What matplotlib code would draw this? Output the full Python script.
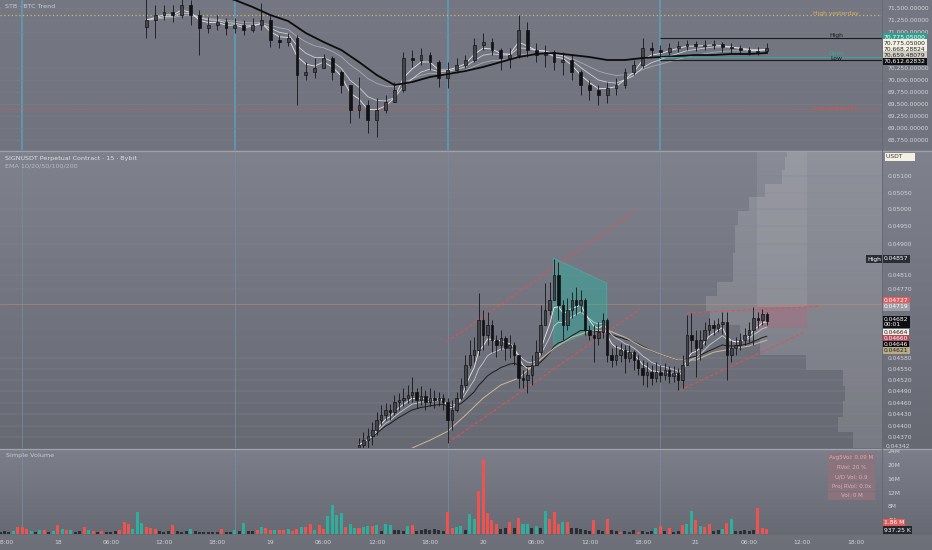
import numpy as np
import pandas as pd
import matplotlib
matplotlib.use('Agg')
import matplotlib.pyplot as plt
from matplotlib.ticker import FixedLocator, FixedFormatter
from matplotlib.patches import Polygon, Rectangle
from matplotlib.colors import LinearSegmentedColormap

# ---------------- data ----------------
# time axis: hours from 18th 00:00
x_ticks = [-6, 0, 6, 12, 18, 24, 30, 36, 42, 48, 54, 60, 66, 72, 78, 84, 90]
x_labels = ["18:00", "18", "06:00", "12:00", "18:00", "19", "06:00", "12:00", "18:00",
            "20", "06:00", "12:00", "18:00", "21", "06:00", "12:00", "18:00"]
day_lines = [-4, 20, 44, 68]

# BTC hourly candles (top panel), starting 18th 10:00
top_first_open = 71100
top_close = [71250,71354,71417,71354,71563,71354,71083,71146,71208,71083,
             71146,71042,71146,71250,70833,70792,70875,70104,70167,70250,
             70458,70167,69896,69375,69479,69167,69375,69542,69792,70458,
             70417,70521,70375,70042,70208,70313,70417,70729,70792,70625,
             70458,70521,71042,70625,70521,70583,70375,70417,70167,69896,
             69792,69688,69833,69896,70167,70313,70667,70625,70583,70667,
             70708,70750,70708,70729,70750,70688,70667,70625,70583,70604,
             70668]
top_high = [71979,71563,71563,71563,71771,71667,71458,71313,71354,71292,
            71292,71250,71292,71604,71354,70938,70979,70938,70375,70458,
            70542,70500,70208,69896,70063,69583,69625,69688,69958,70583,
            70625,70667,70583,70417,70375,70458,70521,70875,70979,70875,
            70667,70667,71354,71208,70771,70729,70625,70583,70521,70208,
            70000,69896,69958,70042,70250,70417,70875,70792,70729,70771,
            70813,70833,70813,70833,70833,70792,70771,70729,70688,70688,
            70775]
top_low = [70875,70875,71250,71208,71292,71146,70521,70979,71042,70938,
           70979,70938,71000,71042,70688,70667,70708,69479,70000,70042,
           70313,70000,69729,69104,69208,68896,68813,69313,69583,69750,
           70271,70313,70208,69854,69833,70146,70250,70375,70625,70521,
           70208,70250,70458,70479,70375,70271,70208,70104,70000,69688,
           69583,69479,69521,69688,69833,70104,70250,70500,70458,70521,
           70583,70625,70604,70625,70646,70583,70563,70542,70521,70521,
           70563]
# slow EMA (thick black) read every 2 hours from 18th 10:00
top_ema_slow = [72188,72083,71979,71875,71771,71667,71521,71354,71229,70979,
                70792,70625,70375,70104,69896,69958,70063,70125,70188,70271,
                70375,70479,70542,70563,70521,70479,70417,70417,70458,70479,
                70500,70521,70521,70542,70542,70563]
top_yticks = [68750, 69000, 69250, 69500, 69750, 70000, 70250, 71000, 71250, 71500]
high_yesterday = 71360
low_yesterday = 69396
range_high, range_mid, range_low = 70875, 70479, 70417

# SIGNUSDT 30-min candles (middle panel), starting 19th 10:00
mid_first_open = 0.04340
mid_close = [0.04350,0.04362,0.04372,0.04388,0.04414,0.04427,0.04441,0.04435,0.04462,0.04467,
             0.04472,0.04480,0.04488,0.04467,0.04477,0.04462,0.04472,0.04467,0.04472,0.04462,
             0.04414,0.04441,0.04472,0.04507,0.04560,0.04587,0.04601,0.04683,0.04642,0.04670,
             0.04628,0.04615,0.04634,0.04606,0.04615,0.04587,0.04525,0.04520,0.04533,0.04560,
             0.04595,0.04670,0.04711,0.04739,0.04810,0.04725,0.04670,0.04711,0.04739,0.04725,
             0.04739,0.04656,0.04642,0.04634,0.04650,0.04683,0.04587,0.04574,0.04587,0.04601,
             0.04579,0.04595,0.04574,0.04552,0.04533,0.04541,0.04525,0.04541,0.04533,0.04547,
             0.04531,0.04538,0.04520,0.04560,0.04642,0.04628,0.04606,0.04628,0.04656,0.04670,
             0.04662,0.04672,0.04678,0.04587,0.04606,0.04615,0.04628,0.04642,0.04656,0.04689,
             0.04683,0.04700,0.04682]
mid_high = [0.04367,0.04383,0.04393,0.04409,0.04435,0.04454,0.04459,0.04456,0.04480,0.04485,
            0.04499,0.04507,0.04528,0.04499,0.04504,0.04493,0.04499,0.04493,0.04488,0.04483,
            0.04472,0.04467,0.04488,0.04525,0.04587,0.04628,0.04636,0.04758,0.04711,0.04705,
            0.04683,0.04642,0.04656,0.04639,0.04642,0.04623,0.04587,0.04547,0.04552,0.04587,
            0.04628,0.04725,0.04787,0.04790,0.04857,0.04847,0.04739,0.04745,0.04761,0.04776,
            0.04767,0.04745,0.04670,0.04670,0.04678,0.04703,0.04689,0.04606,0.04615,0.04620,
            0.04615,0.04615,0.04601,0.04587,0.04574,0.04568,0.04560,0.04568,0.04560,0.04566,
            0.04558,0.04558,0.04552,0.04587,0.04697,0.04703,0.04656,0.04656,0.04678,0.04689,
            0.04683,0.04689,0.04705,0.04705,0.04628,0.04636,0.04648,0.04662,0.04678,0.04719,
            0.04705,0.04714,0.04705]
mid_low = [0.04325,0.04332,0.04342,0.04350,0.04375,0.04401,0.04414,0.04414,0.04427,0.04441,
           0.04451,0.04459,0.04462,0.04446,0.04454,0.04441,0.04451,0.04446,0.04451,0.04441,
           0.04355,0.04388,0.04435,0.04467,0.04493,0.04552,0.04568,0.04587,0.04601,0.04615,
           0.04595,0.04582,0.04601,0.04574,0.04579,0.04560,0.04499,0.04499,0.04485,0.04507,
           0.04560,0.04587,0.04683,0.04697,0.04739,0.04683,0.04628,0.04656,0.04689,0.04697,
           0.04705,0.04642,0.04628,0.04568,0.04615,0.04634,0.04568,0.04555,0.04560,0.04568,
           0.04538,0.04568,0.04547,0.04533,0.04507,0.04501,0.04507,0.04515,0.04515,0.04520,
           0.04512,0.04515,0.04493,0.04499,0.04574,0.04595,0.04528,0.04574,0.04615,0.04642,
           0.04642,0.04650,0.04645,0.04520,0.04568,0.04587,0.04601,0.04615,0.04623,0.04615,
           0.04662,0.04670,0.04670]
# slow EMA (tan) read every 2 hours from 19th 16:00
mid_ema_slow = [0.04342,0.04362,0.04385,0.04427,0.04472,0.04507,0.04525,0.04566,0.04606,0.04636,
                0.04653,0.04656,0.04636,0.04609,0.04590,0.04574,0.04574,0.04595,0.04604,0.04612,
                0.04628]
mid_yticks = [0.04370,0.04400,0.04430,0.04460,0.04490,0.04520,0.04550,0.04580,
              0.04770,0.04810,0.04900,0.04950,0.05000,0.05050,0.05100]
hline_price = 0.04727
# volume profile rows (bottom row first), volume in M
profile_base, profile_step = 0.04342, 0.000408
profile_vol = [2.9,4.4,3.9,3.7,3.9,7.6,12.2,14.2,17.2,17.6,
               16.5,14.9,14.9,14.7,14.7,14.4,13.3,11.7,10.0,9.7,9.5]
# drawings: (t0, p0, t1, p1)
channel_lines = [(43.9, 0.04623, 65.2, 0.04995),
                 (44.0, 0.04355, 65.7, 0.04714),
                 (70.2, 0.04493, 84.1, 0.04648),
                 (71.0, 0.04703, 86.0, 0.04722)]
teal_poly = [(55.97, 0.04858), (61.95, 0.04787), (61.95, 0.04670), (55.97, 0.04610)]
pos_t0, pos_t1 = 78.9, 84.5
pos_entry, pos_stop = 0.04719, 0.04662

# volume (30-min), starting 17th 17:30
vol = [0.7,0.8,0.6,0.9,2.0,2.1,1.4,1.0,0.6,1.3,
       1.2,0.7,0.9,2.7,1.4,1.1,1.3,0.7,0.8,2.0,
       1.1,0.8,0.7,1.0,0.6,0.7,0.8,1.3,3.5,3.0,
       1.4,6.5,3.3,2.0,1.6,1.4,0.8,0.7,0.8,2.7,
       0.9,0.6,0.8,1.4,0.8,0.7,0.6,0.7,0.6,0.5,
       1.4,0.6,0.7,1.1,0.9,3.3,0.8,0.9,1.1,2.0,
       1.8,1.1,1.1,1.1,1.1,1.4,1.0,1.4,2.0,2.0,
       2.9,1.1,2.5,1.4,5.3,8.4,5.5,6.0,2.1,3.0,
       1.8,1.8,2.0,2.3,2.3,2.5,1.0,2.8,2.5,1.3,
       1.1,1.0,2.4,2.5,1.0,1.3,1.4,1.2,1.5,1.3,
       1.0,6.5,1.8,2.0,2.4,1.2,5.7,4.5,12.4,21.7,
       6.2,4.0,3.0,1.5,1.8,3.5,1.6,4.7,3.0,3.0,
       1.8,2.4,1.6,6.7,4.5,6.5,3.0,3.5,3.5,1.8,
       1.6,1.5,1.2,1.0,4.0,1.1,1.0,4.5,1.3,0.9,
       0.6,0.8,0.7,1.2,0.5,0.9,0.7,1.0,1.7,2.4,
       0.9,1.7,0.7,0.8,2.7,3.0,6.7,4.0,2.4,2.1,
       3.0,1.0,1.1,1.4,3.3,4.5,1.0,0.9,1.1,1.0,
       1.2,7.6,1.7,1.4]
vol_kind = ("kkkgrrrgkg" "rkgrgrgkkr" "grkrkkkrrr" "gggrrrkkkr" "kkkgkkkkkk"
            "rkkgkgkkrg" "rrgrrgrrgr" "rgrrggggrg" "grggrgkggk" "kkgrkkkkkk"
            "krrggkggrr" "rrrkkrkrgg" "kgkgrrrgrk" "kkkkrkkrkk" "rkkkrkkkgr"
            "krkkrggrgr" "rkkgrgkkkk" "krrr")
vol_yticks = [4, 8, 12, 16, 20, 24]
vol_stats = ["Avg5Vol: 0.09 M", "RVol: 20 %", "U/D Vol: 0.9", "Proj RVol: 0.0x", "Vol: 0 M"]

# ---------------- figure ----------------
W, H = 932, 550
fig = plt.figure(figsize=(W / 100, H / 100), dpi=100)
fig.patch.set_facecolor('#777a85')
LBL = '#d2d4da'
FS = 4.3


def rect(x0, y0, x1, y1):
    return [x0 / W, 1 - y1 / H, (x1 - x0) / W, (y1 - y0) / H]


def bg(r, top, bottom):
    a = fig.add_axes(r, zorder=0)
    cmap = LinearSegmentedColormap.from_list('g', [bottom, top])
    a.imshow(np.linspace(0, 1, 256).reshape(-1, 1), aspect='auto', cmap=cmap,
             origin='lower', extent=[0, 1, 0, 1])
    a.set_axis_off()
    return a


bg(rect(0, 0, W, 150), '#757883', '#71747e')
bg(rect(0, 151, W, 449), '#7f828d', '#666872')
bg(rect(0, 450, W, 535), '#7c7f8a', '#676973')
bg(rect(0, 535, W, H), '#6f717b', '#6c6e78')


def style(ax):
    ax.set_facecolor('none')
    for s in ax.spines.values():
        s.set_visible(False)
    ax.yaxis.tick_right()
    ax.tick_params(axis='y', length=0, pad=4, labelsize=FS, labelcolor=LBL)
    ax.tick_params(axis='x', length=0, labelbottom=False)
    ax.set_xlim(-6.5, 93.0)


def candles(ax, t, o, h, l, c, width, tiny):
    t = np.asarray(t, float); o = np.asarray(o, float); c = np.asarray(c, float)
    hi = np.maximum(np.asarray(h, float), np.maximum(o, c))
    lo = np.minimum(np.asarray(l, float), np.minimum(o, c))
    ax.vlines(t, lo, hi, color='#141519', lw=0.6, zorder=3)
    up = c >= o
    bot = np.minimum(o, c)
    ht = np.maximum(np.abs(c - o), tiny)
    ax.bar(t[up], ht[up], width, bottom=bot[up], color='#44464d', edgecolor='#141519', lw=0.5, zorder=4)
    ax.bar(t[~up], ht[~up], width, bottom=bot[~up], color='#111216', edgecolor='#111216', lw=0.5, zorder=4)


# ---------- top panel ----------
ax1 = fig.add_axes(rect(0, 0, 882, 150), zorder=1)
style(ax1)
ax1.set_ylim(68542, 71667)
ax1.yaxis.set_major_locator(FixedLocator(top_yticks))
ax1.yaxis.set_major_formatter(FixedFormatter([f"{v:,.5f}" for v in top_yticks]))
ax1.grid(axis='y', color='#7b7e89', lw=0.4)
for d in day_lines:
    ax1.axvline(d, color='#5d9ab6', lw=1.3, zorder=1)
ax1.axhline(high_yesterday, color='#d6b55e', lw=0.9, ls=(0, (1, 2)), zorder=2)
ax1.axhline(low_yesterday, color='#e0504f', lw=0.9, ls=(0, (1, 2)), zorder=2)
n1 = min(len(top_close), len(top_high), len(top_low))
t1 = 10 + np.arange(n1)
o1 = np.r_[top_first_open, top_close[:n1 - 1]]
tc = pd.Series(top_close[:n1], dtype=float)
ax1.plot(t1, tc.ewm(span=12, adjust=False).mean(), color='#a9abb3', lw=0.6, zorder=2)
ax1.plot(t1, tc.ewm(span=6, adjust=False).mean(), color='#d0d1d6', lw=0.6, zorder=2)
ax1.plot(t1, tc.ewm(span=3, adjust=False).mean(), color='#e6e6ea', lw=0.6, zorder=2)
candles(ax1, t1, o1, top_high[:n1], top_low[:n1], top_close[:n1], 0.32, 6)
ax1.plot(10 + 2 * np.arange(len(top_ema_slow)), top_ema_slow, color='#0c0c0e', lw=1.3, zorder=5)
t_rng0 = 67.9
ax1.hlines([range_high, range_low], t_rng0, 93.0, color='#1a1b1f', lw=0.8, zorder=5)
ax1.hlines([range_mid], t_rng0, 93.0, color='#3aa89a', lw=0.8, zorder=5)

# ---------- middle panel ----------
ax2 = fig.add_axes(rect(0, 151, 882, 448), zorder=1)
style(ax2)
ax2.set_yscale('log')
ax2.set_ylim(0.04342, 0.05176)
ax2.yaxis.set_major_locator(FixedLocator(mid_yticks))
ax2.yaxis.set_major_formatter(FixedFormatter([f"{v:.5f}" for v in mid_yticks]))
ax2.yaxis.set_minor_locator(FixedLocator([]))
ax2.grid(axis='y', color='#838691', lw=0.35)

axp = fig.add_axes(rect(0, 151, 882, 448), zorder=0.5, sharey=ax2)
axp.set_axis_off()
axp.set_xlim(88.2, 0)
rows = profile_base + profile_step * np.arange(len(profile_vol))
axp.barh(rows, profile_vol, height=profile_step, align='edge', color='white', alpha=0.13, lw=0)

for d in day_lines:
    ax2.axvline(d, color='#6e8ea8', lw=0.7, alpha=0.8, zorder=1)
ax2.axhline(hline_price, color='#c8915c', lw=0.5, alpha=0.7, zorder=2)
ax2.add_patch(Rectangle((pos_t0, pos_entry), pos_t1 - pos_t0, 0.06 - pos_entry,
                        fc='white', alpha=0.08, lw=0, zorder=1))
ax2.add_patch(Rectangle((pos_t0, pos_stop), pos_t1 - pos_t0, pos_entry - pos_stop,
                        fc='#c45c78', alpha=0.28, lw=0, zorder=1))
ax2.add_patch(Polygon(teal_poly, closed=True, fc='#2bb3a2', alpha=0.45,
                      ec='#45c9b9', lw=0.6, zorder=2))
for (a0, p0, a1, p1) in channel_lines:
    ax2.plot([a0, a1], [p0, p1], color='#e0505a', lw=0.8, ls=(0, (3, 2)), zorder=3)

n2 = min(len(mid_close), len(mid_high), len(mid_low))
t2 = 34 + 0.5 * np.arange(n2)
o2 = np.r_[mid_first_open, mid_close[:n2 - 1]]
mc = pd.Series(mid_close[:n2], dtype=float)
ax2.plot(t2, mc.ewm(span=24, adjust=True).mean(), color='#1b1c20', lw=0.7, zorder=3)
ax2.plot(t2, mc.ewm(span=10, adjust=True).mean(), color='#c9cad0', lw=0.6, zorder=3)
ax2.plot(t2, mc.ewm(span=5, adjust=True).mean(), color='#ebebee', lw=0.6, zorder=3)
ax2.plot(40 + 2 * np.arange(len(mid_ema_slow)), mid_ema_slow, color='#cdbb96', lw=0.7, zorder=3)
candles(ax2, t2, o2, mid_high[:n2], mid_low[:n2], mid_close[:n2], 0.28, 0.000012)

# ---------- volume panel ----------
ax3 = fig.add_axes(rect(0, 450, 882, 534), zorder=1)
style(ax3)
ax3.set_ylim(0, 24.4)
ax3.yaxis.set_major_locator(FixedLocator(vol_yticks))
ax3.yaxis.set_major_formatter(FixedFormatter([f"{v}M" for v in vol_yticks]))
for d in day_lines:
    ax3.axvline(d, color='#6e8ea8', lw=0.7, alpha=0.8, zorder=1)
cmap_k = {'r': '#ef5350', 'g': '#2fae9e', 'k': '#2c2e35'}
tv = -6.5 + 0.5 * np.arange(len(vol))
ax3.bar(tv, vol, 0.34, color=[cmap_k[k] for k in vol_kind[:len(vol)]], lw=0, zorder=3)
ax3.xaxis.set_major_locator(FixedLocator(x_ticks))
ax3.xaxis.set_major_formatter(FixedFormatter(x_labels))
ax3.tick_params(axis='x', length=0, pad=4.5, labelsize=FS, labelcolor=LBL, labelbottom=True)

# ---------- separators ----------
fig.add_artist(plt.Line2D([0, 1], [1 - 150.5 / H] * 2, color='#9fa1aa', lw=0.9))
fig.add_artist(plt.Line2D([0, 1], [1 - 449 / H] * 2, color='#a3a5ae', lw=0.9))
fig.add_artist(plt.Line2D([882 / W] * 2, [1 - 535 / H, 1], color='#656872', lw=0.6))


def ftext(x, y, s, **kw):
    fig.text(x / W, 1 - y / H, s, **kw)


def box(x, y, s, fc, tc):
    ftext(x, y, s, ha='left', va='center', fontsize=FS, color=tc, zorder=10,
          bbox=dict(boxstyle='square,pad=0.18', fc=fc, ec='none'))


# titles
ftext(5, 6, "STB · BTC Trend", fontsize=FS + 0.3, color='#c9cbd2', va='center')
ftext(5, 158, "SIGNUSDT Perpetual Contract · 15 · Bybit", fontsize=FS + 0.3, color='#dcdee3', va='center')
ftext(5, 166, "EMA 10/20/50/100/200", fontsize=FS + 0.3, color='#b9bbc3', va='center')
ftext(6, 455, "Simple Volume", fontsize=FS + 0.3, color='#c9cbd2', va='center')

# top panel labels
ftext(813, 13.5, "High yesterday", fontsize=FS, color='#d6b55e', va='center')
ftext(813, 108.5, "Low yesterday", fontsize=FS, color='#e0504f', va='center')
ftext(829, 35, "High", fontsize=FS, color='#1a1b1f', va='center')
ftext(829, 53.5, "Open", fontsize=FS, color='#3aa89a', va='center')
ftext(830, 58.5, "Low", fontsize=FS, color='#1a1b1f', va='center')

# right axis price boxes
box(884, 37, "70,775.05000", '#2e9e8f', 'white')
box(884, 43, "70,775.05000", '#f3efe2', '#222222')
box(884, 49, "70,668.28824", '#f3efe2', '#222222')
box(884, 55, "70,659.48079", '#cfccc2', '#222222')
box(884, 61.5, "70,612.62832", '#101114', 'white')

box(886, 157, "USDT      ", '#f4f0e2', '#333333')
box(867, 259, "High", '#2a2d36', 'white')
box(884, 259, "0.04857", '#2a2d36', 'white')
box(884, 301, "0.04727", '#e25d5d', 'white')
box(884, 307, "0.04719", '#9c9ea6', 'white')
box(884, 322, "0.04682\n00:01", '#0e0f12', 'white')
box(884, 332.5, "0.04664", '#f3efe2', '#222222')
box(884, 338.5, "0.04660", '#b4485a', 'white')
box(884, 344.5, "0.04646", '#0e0f12', 'white')
box(884, 350.5, "0.04621", '#b9ab84', '#222222')
ftext(886, 447, "0.04342", fontsize=FS, color=LBL, va='center')

box(884, 523, "1.86 M", '#e05c5c', 'white')
box(884, 530, "937.25 K", '#24262d', 'white')

# volume stats boxes
for k, s in enumerate(vol_stats):
    yc = 457.5 + 9.6 * k
    fig.add_artist(Rectangle((828 / W, 1 - (yc + 4.3) / H), 47 / W, 8.6 / H,
                             transform=fig.transFigure, fc='#8c727a', ec='none', zorder=9))
    ftext(851.5, yc, s, ha='center', va='center', fontsize=FS - 0.3, color='#d7b0b8', zorder=10)

fig.savefig('out.png', dpi=100, facecolor=fig.get_facecolor())
